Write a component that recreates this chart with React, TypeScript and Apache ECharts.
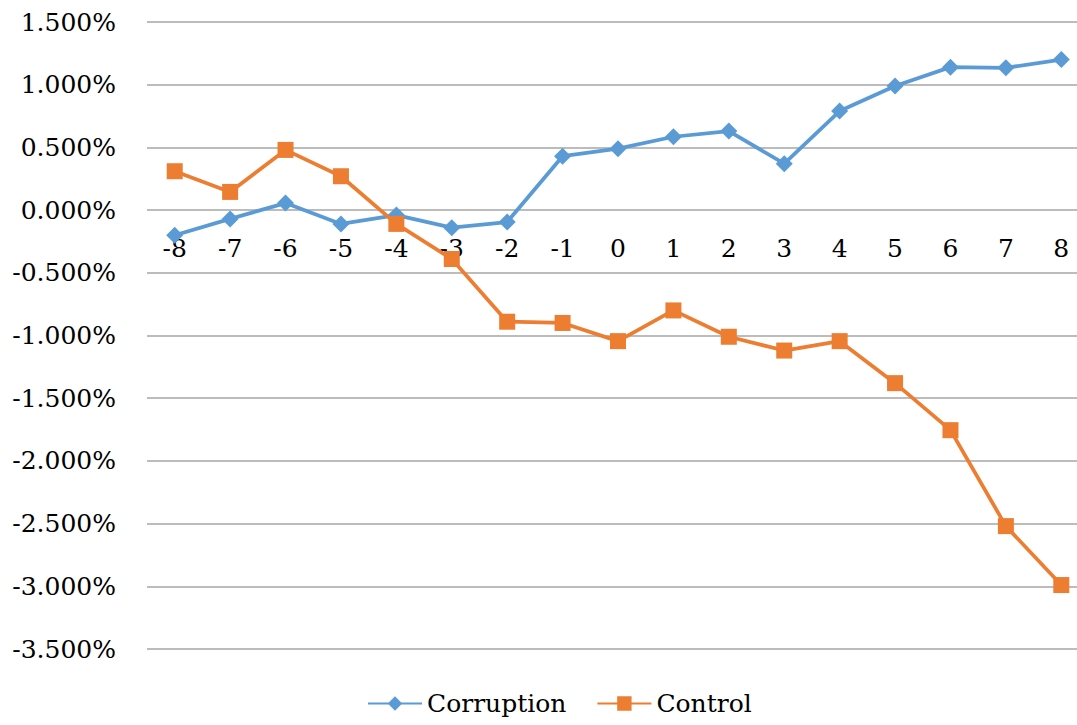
import React, { useEffect, useRef } from "react";
import * as echarts from "echarts";

const categories = ["-8", "-7", "-6", "-5", "-4", "-3", "-2", "-1", "0", "1", "2", "3", "4", "5", "6", "7", "8"];
const corruption = [-0.2, -0.07, 0.056, -0.11, -0.04, -0.14, -0.095, 0.43, 0.49, 0.585, 0.63, 0.37, 0.79, 0.99, 1.14, 1.135, 1.2];
const control = [0.31, 0.145, 0.48, 0.27, -0.11, -0.39, -0.89, -0.9, -1.045, -0.8, -1.01, -1.12, -1.045, -1.38, -1.755, -2.52, -2.99];

export default function App() {
  const ref = useRef<HTMLDivElement>(null);
  useEffect(() => {
    if (!ref.current) return;
    const chart = echarts.init(ref.current, null, { renderer: "svg" });
    const font = "DejaVu Serif";
    chart.setOption({
      animation: false,
      textStyle: { fontFamily: font },
      grid: { left: 147, right: 0, top: 22, bottom: 76, outerBoundsMode: "none" },
      legend: {
        bottom: 4,
        left: 362,
        itemWidth: 54,
        itemHeight: 18,
        itemGap: 30,
        textStyle: { fontFamily: font, fontSize: 25, color: "#000" },
        data: ["Corruption", "Control"],
      },
      xAxis: {
        type: "category",
        data: categories,
        boundaryGap: true,
        offset: -439,
        axisLine: { show: false },
        axisTick: { show: false },
        axisLabel: { fontFamily: font, fontSize: 25, color: "#000", margin: 26 },
      },
      yAxis: {
        type: "value",
        min: -3.5,
        max: 1.5,
        interval: 0.5,
        axisLine: { show: false },
        axisTick: { show: false },
        axisLabel: {
          fontFamily: font,
          fontSize: 25,
          color: "#000",
          margin: 31,
          formatter: (v: number) => v.toFixed(3) + "%",
        },
        splitLine: { lineStyle: { color: "#a6a6a6", width: 1.5 } },
      },
      series: [
        {
          name: "Corruption",
          type: "line",
          data: corruption,
          symbol: "diamond",
          symbolSize: 17,
          lineStyle: { color: "#5B9BD5", width: 3.75 },
          itemStyle: { color: "#5B9BD5" },
        },
        {
          name: "Control",
          type: "line",
          data: control,
          symbol: "rect",
          symbolSize: 16,
          lineStyle: { color: "#ED7D31", width: 3.75 },
          itemStyle: { color: "#ED7D31" },
        },
      ],
    });
    return () => chart.dispose();
  }, []);
  return (
    <div style={{ position: "fixed", left: 0, top: 0, width: 1077, height: 725, overflow: "hidden", background: "#fff" }}>
      <div ref={ref} style={{ width: 1089, height: 725 }} />
    </div>
  );
}
